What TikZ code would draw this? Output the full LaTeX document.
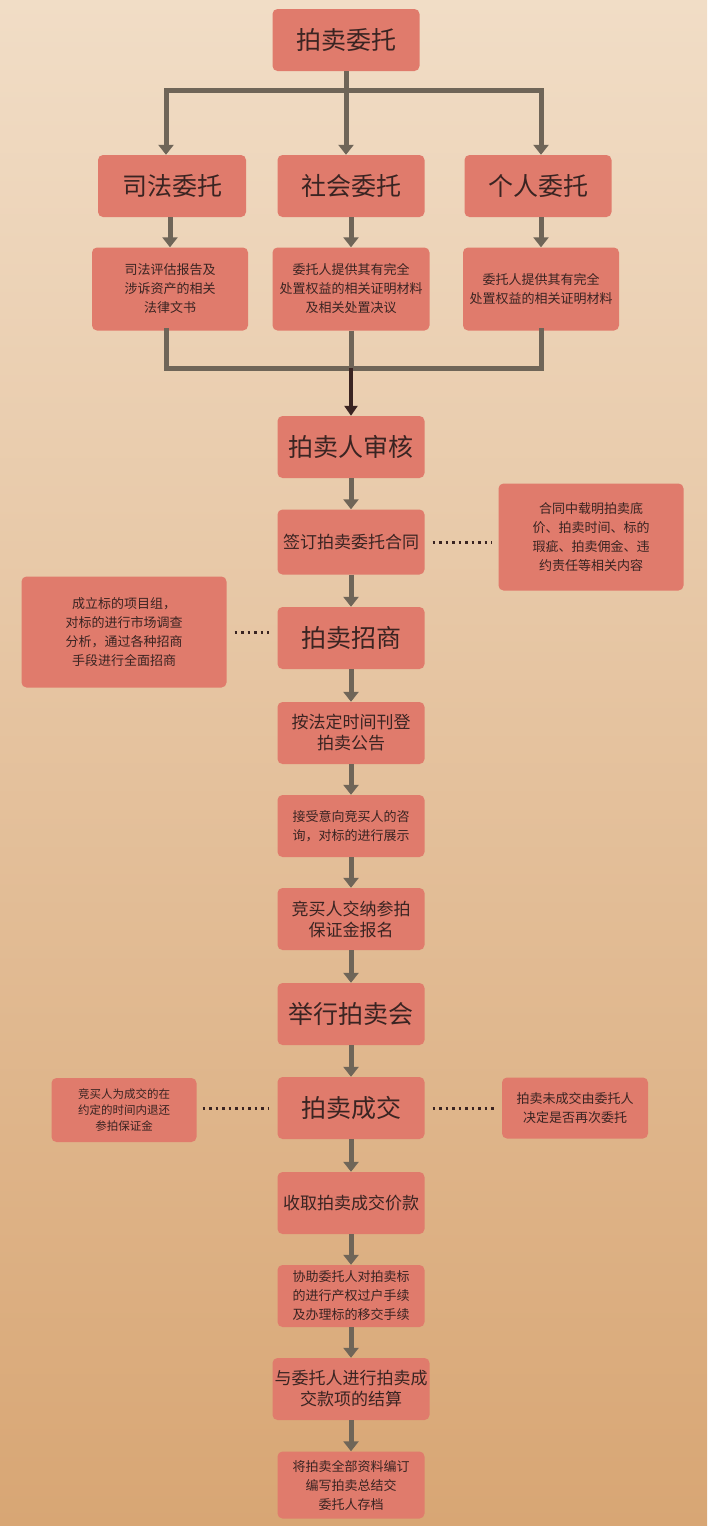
\documentclass[tikz,border=0pt]{standalone}
\usepackage{fontspec}
\setmainfont{Noto Sans CJK SC}
\usetikzlibrary{arrows.meta}
\definecolor{boxc}{HTML}{E07B6C}
\definecolor{linec}{HTML}{6F6558}
\definecolor{txt}{HTML}{3A2422}
\definecolor{bgtop}{HTML}{F1DDC6}
\definecolor{bgbot}{HTML}{D8A674}
\tikzset{
 bx/.style={fill=boxc,rounded corners=5pt,text=txt,align=center,inner sep=2pt,minimum width=147pt,minimum height=62pt},
 big/.style={bx,font=\fontsize{25}{29}\selectfont},
 mid/.style={bx,font=\fontsize{17}{21}\selectfont},
 sml/.style={bx,font=\fontsize{13}{19}\selectfont},
 arr/.style={linec,line width=5pt,-{Triangle[width=15pt,length=10pt]}},
 ln/.style={linec,line width=5pt},
 dot/.style={txt,line width=3pt,dash pattern=on 2.5pt off 4pt}
}
\begin{document}
\begin{tikzpicture}[x=1pt,y=-1pt]
\shade[top color=bgtop,bottom color=bgbot] (0,0) rectangle (707,1526);
\useasboundingbox (0,0) rectangle (707,1526);
\node[big] (a) at (346,40) {拍卖委托};
\node[big,minimum width=148pt] (s1) at (172,186) {司法委托};
\node[big] (s2) at (351,186) {社会委托};
\node[big] (s3) at (538,186) {个人委托};
\node[sml,minimum width=156pt,minimum height=83pt] (d1) at (170,289) {司法评估报告及\\涉诉资产的相关\\法律文书};
\node[sml,minimum width=157pt,minimum height=83pt] (d2) at (351,289) {委托人提供其有完全\\处置权益的相关证明材料\\及相关处置决议};
\node[sml,minimum width=156pt,minimum height=83pt] (d3) at (541,289) {委托人提供其有完全\\处置权益的相关证明材料};
\node[big] (n1) at (351,447) {拍卖人审核};
\node[mid,minimum height=65pt] (n2) at (351,542) {签订拍卖委托合同};
\node[sml,minimum width=185pt,minimum height=107pt] (r1) at (591,537) {合同中载明拍卖底\\价、拍卖时间、标的\\瑕疵、拍卖佣金、违\\约责任等相关内容};
\node[big] (n3) at (351,638) {拍卖招商};
\node[sml,minimum width=205pt,minimum height=111pt] (l1) at (124,632) {成立标的项目组，\\对标的进行市场调查\\分析，通过各种招商\\手段进行全面招商};
\node[mid] (n4) at (351,733) {按法定时间刊登\\拍卖公告};
\node[sml] (n5) at (351,826) {接受意向竞买人的咨\\询，对标的进行展示};
\node[mid] (n6) at (351,919) {竞买人交纳参拍\\保证金报名};
\node[big] (n7) at (351,1014) {举行拍卖会};
\node[big] (n8) at (351,1108) {拍卖成交};
\node[sml,minimum width=145pt,minimum height=64pt,font=\fontsize{11.5}{16}\selectfont] (l2) at (124,1110) {竞买人为成交的在\\约定的时间内退还\\参拍保证金};
\node[sml,minimum width=146pt,minimum height=61pt] (r2) at (575,1108) {拍卖未成交由委托人\\决定是否再次委托};
\node[mid] (n9) at (351,1203) {收取拍卖成交价款};
\node[sml] (n10) at (351,1296) {协助委托人对拍卖标\\的进行产权过户手续\\及办理标的移交手续};
\node[mid] (n11) at (351,1389) {与委托人进行拍卖成\\交款项的结算};
\node[sml,minimum height=67pt] (n12) at (351,1485) {将拍卖全部资料编订\\编写拍卖总结交\\委托人存档};
\coordinate (t1) at (166,90); \coordinate (t3) at (541,90);
\coordinate (m) at (346,90);
\draw[ln] (a.south) -- (m);
\draw[ln,line cap=rect] (t1) -- (t3);
\draw[arr] (t1) -- (t1 |- s1.north);
\draw[arr] (m) -- (s2.north -| m);
\draw[arr] (t3) -- (t3 |- s3.north);
\draw[arr] (s1.south -| d1) ++(0,0) -- (d1.north);
\draw[arr] (s2.south) -- (d2.north);
\draw[arr] (s3.south -| d3) -- (d3.north);
\coordinate (b1) at (166,368); \coordinate (b3) at (541,368); \coordinate (b2) at (351,368);
\draw[ln,line cap=rect] (d1.south -| b1) -- (b1) -- (b3) -- (d3.south -| b3);
\draw[ln] (d2.south) -- (b2);
\draw[txt,line width=4pt,-{Triangle[width=13pt,length=10pt]}] (b2) -- (n1.north);
\foreach \p/\q in {n1/n2,n2/n3,n3/n4,n4/n5,n5/n6,n6/n7,n7/n8,n8/n9,n9/n10,n10/n11,n11/n12}
 \draw[arr] (\p.south) -- (\q.north);
\draw[dot] ([xshift=8pt]n2.east) -- ([xshift=-6pt]r1.west |- n2);
\draw[dot] ([xshift=8pt]l1.east) -- ([xshift=-8pt]n3.west |- l1);
\draw[dot] ([xshift=6pt]l2.east |- n8) -- ([xshift=-8pt]n8.west);
\draw[dot] ([xshift=8pt]n8.east) -- ([xshift=-6pt]r2.west);
\end{tikzpicture}
\end{document}
